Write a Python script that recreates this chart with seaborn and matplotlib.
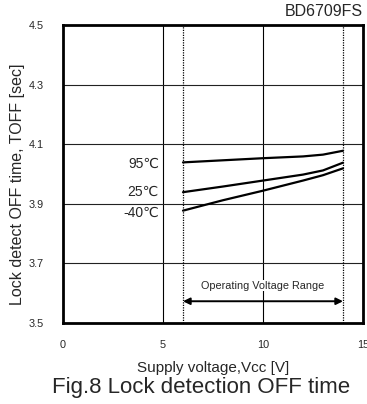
import numpy as np
import pandas as pd
import matplotlib
matplotlib.use("Agg")
import matplotlib.pyplot as plt
import seaborn as sns

# Supply voltage sweep points and measured OFF time per temperature
vcc = [6, 8, 10, 12, 13, 14]
toff_95 = [4.039, 4.046, 4.053, 4.059, 4.065, 4.078]
toff_25 = [3.939, 3.958, 3.978, 3.998, 4.012, 4.038]
toff_m40 = [3.877, 3.912, 3.944, 3.978, 3.996, 4.019]
temps = ["95℃", "25℃", "-40℃"]

x_ticks = [0, 5, 10, 15]
y_ticks = [3.5, 3.7, 3.9, 4.1, 4.3, 4.5]
op_range = [6, 14]

df = pd.DataFrame({
    "vcc": vcc * 3,
    "toff": toff_95 + toff_25 + toff_m40,
    "temp": [t for t in temps for _ in vcc],
})

sns.set_style("white")
plt.rcParams["font.family"] = ["Liberation Sans", "DejaVu Sans"]

W, H = 367, 404
fig = plt.figure(figsize=(W / 100, H / 100), dpi=100)
ax = fig.add_axes([63 / W, 1 - 323 / H, 300 / W, 298 / H])

sns.lineplot(data=df, x="vcc", y="toff", units="temp", estimator=None,
             color="black", lw=1.6, ax=ax, legend=False)

ax.set_xlim(0, 15)
ax.set_ylim(3.5, 4.5)
ax.set_xticks(x_ticks)
ax.set_yticks(y_ticks)
ax.set_xticklabels([str(v) for v in x_ticks], fontsize=7.8)
ax.set_yticklabels([f"{v:.1f}" for v in y_ticks], fontsize=7.8)
ax.tick_params(axis="x", length=0, pad=12)
ax.tick_params(axis="y", length=0, pad=14)

for v in [5, 10]:
    ax.axvline(v, color="black", lw=0.8, zorder=1)
for v in [3.7, 3.9, 4.1, 4.3]:
    ax.axhline(v, color="#222222", lw=0.8, zorder=1)
for v in op_range:
    ax.axvline(v, color="black", lw=0.9, ls=(0, (1, 1)), zorder=1)

for s in ax.spines.values():
    s.set_color("black")
    s.set_linewidth(2)

# Temperature labels to the left of each curve
label_y = [4.035, 3.940, 3.869]
for t, y in zip(temps, label_y):
    ax.text(4.8, y, t, ha="right", va="center", fontsize=10)

ax.annotate("", xy=(op_range[0], 3.573), xytext=(op_range[1], 3.573),
            arrowprops=dict(arrowstyle="<|-|>", color="black", lw=1.4,
                            mutation_scale=10, shrinkA=0, shrinkB=0))
ax.text(10, 3.625, "Operating Voltage Range", ha="center", va="center",
        fontsize=7.8, bbox=dict(facecolor="white", edgecolor="none", pad=0.5))

ax.set_xlabel("Supply voltage,Vcc [V]", fontsize=11, labelpad=8)
ax.set_ylabel("Lock detect OFF time, TOFF [sec]", fontsize=11.5)
ax.yaxis.set_label_coords(-0.127, 0.466)

fig.text(363 / W, 1 - 12 / H, "BD6709FS", ha="right", va="center", fontsize=11.5)
fig.text(201 / W, 1 - 387 / H, "Fig.8 Lock detection OFF time", ha="center",
         va="center", fontsize=16)

fig.savefig("out.png", dpi=100)
